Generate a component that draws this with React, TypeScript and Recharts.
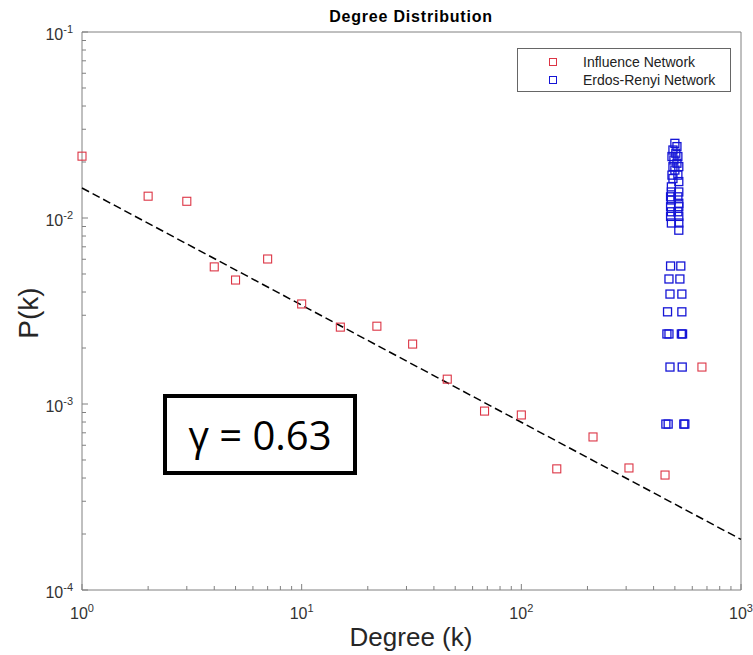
import React from 'react';
import { ScatterChart, Scatter, XAxis, YAxis, Legend } from 'recharts';

// Influence network: degree k and P(k)
const influenceDegree = [1, 2, 3, 4, 5, 7, 10, 15, 22, 32, 46, 68, 100, 145, 212, 309, 451, 664];
const influenceProb = [
  0.0215, 0.0131, 0.0123, 0.00546, 0.00464, 0.00602, 0.00345, 0.00259, 0.00262,
  0.0021, 0.00136, 0.000916, 0.000873, 0.000448, 0.000665, 0.000453, 0.000415, 0.00158,
];

// Erdos-Renyi network: points stacked around k ~ 500
const erDegree = [
  500, 511, 490, 505, 485, 516, 495, 511, 490, 521, 500, 485, 516, 490, 521, 482,
  482, 521, 478, 516, 482, 521, 478, 521, 482, 516, 478, 521, 482, 521, 521,
  478, 532, 470, 527, 475, 538, 463, 538, 460, 470, 535, 542, 475, 540, 455, 466, 549, 555,
];
const erProb = [
  0.0252, 0.0242, 0.0232, 0.0223, 0.0214, 0.0214, 0.0205, 0.0197, 0.0189, 0.0189, 0.0181, 0.017, 0.017, 0.0163, 0.0157, 0.0147,
  0.0138, 0.0138, 0.013, 0.013, 0.0125, 0.012, 0.0115, 0.0115, 0.0108, 0.0108, 0.0102, 0.0102, 0.0094, 0.0094, 0.0086,
  0.00552, 0.00552, 0.0047, 0.0047, 0.0039, 0.0039, 0.00313, 0.00313, 0.00238, 0.00238, 0.00238, 0.00238, 0.00158, 0.00158, 0.00078, 0.00078, 0.00078, 0.00078,
];

// fitted power law, gamma = 0.63
const fitDegree = [1, 1000];
const fitProb = [0.0145, 0.000187];

const xTicks = [
  1, 2, 3, 4, 5, 6, 7, 8, 9, 10, 20, 30, 40, 50, 60, 70, 80, 90,
  100, 200, 300, 400, 500, 600, 700, 800, 900, 1000,
];
const yTicks = [
  0.0001, 0.0002, 0.0003, 0.0004, 0.0005, 0.0006, 0.0007, 0.0008, 0.0009,
  0.001, 0.002, 0.003, 0.004, 0.005, 0.006, 0.007, 0.008, 0.009,
  0.01, 0.02, 0.03, 0.04, 0.05, 0.06, 0.07, 0.08, 0.09, 0.1,
];

const influenceData = influenceDegree.map((k, i) => ({ k, p: influenceProb[i] }));
const erData = erDegree.map((k, i) => ({ k, p: erProb[i] }));
const fitData = fitDegree.map((k, i) => ({ k, p: fitProb[i] }));

const RED = '#dc3545';
const BLUE = '#1515d6';
const AXIS = '#808080';
const FONT = '"Liberation Sans", Arial, sans-serif';

const isDecade = (v: number) => Math.abs(Math.log10(v) - Math.round(Math.log10(v))) < 1e-6;

const makeTick = (side: 'bottom' | 'top' | 'left' | 'right') => (props: any) => {
  const { x, y, payload } = props;
  const v = payload.value;
  const major = isDecade(v);
  const len = major ? 6 : 4;
  const exp = Math.round(Math.log10(v));
  let line;
  if (side === 'bottom') line = <line x1={x} y1={y} x2={x} y2={y - len} stroke={AXIS} />;
  else if (side === 'top') line = <line x1={x} y1={y} x2={x} y2={y + len} stroke={AXIS} />;
  else if (side === 'left') line = <line x1={x} y1={y} x2={x + len} y2={y} stroke={AXIS} />;
  else line = <line x1={x} y1={y} x2={x - len} y2={y} stroke={AXIS} />;

  let label = null;
  if (major && side === 'bottom') {
    label = (
      <text x={x} y={y + 29} textAnchor="middle" fontSize={16} fill="#333" fontFamily={FONT}>
        10<tspan dy={-7} fontSize={11}>{exp}</tspan>
      </text>
    );
  } else if (major && side === 'left') {
    label = (
      <text x={x - 9} y={y + 8} textAnchor="end" fontSize={16} fill="#333" fontFamily={FONT}>
        10<tspan dy={-7} fontSize={11}>{exp}</tspan>
      </text>
    );
  }
  return (
    <g>
      {line}
      {label}
    </g>
  );
};

const Square = (color: string, sw: number) => (props: any) => {
  const { cx, cy } = props;
  if (cx == null || cy == null) return <g />;
  return <rect x={cx - 4} y={cy - 4} width={8} height={8} fill="none" stroke={color} strokeWidth={sw} />;
};

const legendItems = [
  { name: 'Influence Network', color: RED },
  { name: 'Erdos-Renyi Network', color: BLUE },
];

const LegendBox = () => (
  <div
    style={{
      width: 214,
      height: 44,
      boxSizing: 'border-box',
      border: '1px solid #666',
      background: '#fff',
      fontFamily: FONT,
      fontSize: 14,
      color: '#222',
      paddingTop: 4,
    }}
  >
    {legendItems.map((it) => (
      <div key={it.name} style={{ display: 'flex', alignItems: 'center', height: 18 }}>
        <div
          style={{
            width: 8,
            height: 8,
            border: `1px solid ${it.color}`,
            boxSizing: 'border-box',
            marginLeft: 31,
            marginRight: 26,
          }}
        />
        <span>{it.name}</span>
      </div>
    ))}
  </div>
);

export default function App() {
  return (
    <div style={{ position: 'absolute', left: 0, top: 0, width: 753, height: 655, background: '#fff' }}>
      <ScatterChart width={753} height={655} margin={{ top: 31, right: 11, bottom: 64, left: 81 }}>
        <XAxis
          dataKey="k"
          type="number"
          scale="log"
          domain={[1, 1000]}
          ticks={xTicks}
          interval={0}
          height={1}
          tickSize={0}
          tickMargin={0}
          tickLine={false}
          axisLine={{ stroke: AXIS }}
          tick={makeTick('bottom')}
        />
        <XAxis
          xAxisId="top"
          orientation="top"
          dataKey="k"
          type="number"
          scale="log"
          domain={[1, 1000]}
          ticks={xTicks}
          interval={0}
          height={1}
          tickSize={0}
          tickMargin={0}
          tickLine={false}
          axisLine={{ stroke: AXIS }}
          tick={makeTick('top')}
        />
        <YAxis
          dataKey="p"
          type="number"
          scale="log"
          domain={[0.0001, 0.1]}
          ticks={yTicks}
          interval={0}
          width={1}
          tickSize={0}
          tickMargin={0}
          tickLine={false}
          axisLine={{ stroke: AXIS }}
          tick={makeTick('left')}
        />
        <YAxis
          yAxisId="right"
          orientation="right"
          dataKey="p"
          type="number"
          scale="log"
          domain={[0.0001, 0.1]}
          ticks={yTicks}
          interval={0}
          width={1}
          tickSize={0}
          tickMargin={0}
          tickLine={false}
          axisLine={{ stroke: AXIS }}
          tick={makeTick('right')}
        />
        <Legend
          layout="horizontal"
          verticalAlign="middle"
          align="center"
          wrapperStyle={{ top: 48, left: 517, width: 214, height: 44 }}
          content={() => <LegendBox />}
        />
        <Scatter
          name="fit"
          data={fitData}
          line={{ stroke: '#000', strokeWidth: 1.5, strokeDasharray: '8 4' }}
          shape={() => <g />}
          legendType="none"
          isAnimationActive={false}
        />
        <Scatter name="Influence Network" data={influenceData} shape={Square(RED, 1.1)} isAnimationActive={false} />
        <Scatter name="Erdos-Renyi Network" data={erData} shape={Square(BLUE, 1.3)} isAnimationActive={false} />
      </ScatterChart>

      <svg width={753} height={655} style={{ position: 'absolute', left: 0, top: 0, pointerEvents: 'none' }}>
        <text x={411} y={22} textAnchor="middle" fontSize={16} fontWeight="bold" letterSpacing={0.8} fontFamily={FONT} fill="#000">
          Degree Distribution
        </text>
        <text x={411} y={646} textAnchor="middle" fontSize={26} fontFamily={FONT} fill="#262626">
          Degree (k)
        </text>
        <text
          x={38}
          y={313}
          transform="rotate(-90 38 313)"
          textAnchor="middle"
          fontSize={28}
          fontFamily={FONT}
          fill="#262626"
        >
          P(k)
        </text>
      </svg>

      <div
        style={{
          position: 'absolute',
          left: 163,
          top: 394,
          width: 194,
          height: 81,
          boxSizing: 'border-box',
          border: '4px solid #000',
          background: '#fff',
          display: 'flex',
          alignItems: 'center',
          justifyContent: 'center',
          fontFamily: '"Open Sans", sans-serif',
          fontSize: 40,
          color: '#000',
          whiteSpace: 'pre',
        }}
      >
        γ = 0.63
      </div>
    </div>
  );
}
